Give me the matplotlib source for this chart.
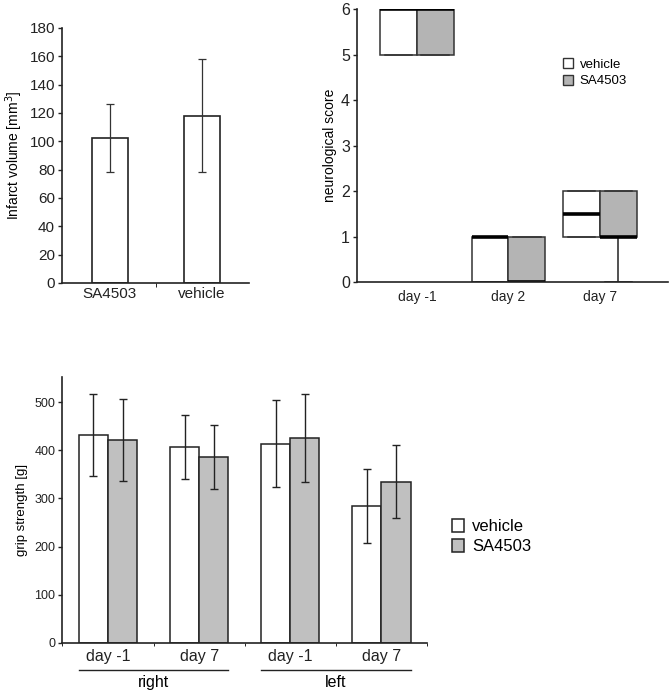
import numpy as np
import matplotlib.pyplot as plt
import matplotlib.transforms as mtransforms
from matplotlib.patches import Patch

plt.rcParams['font.family'] = ['Liberation Sans', 'DejaVu Sans']

# --- data ---
infarct_groups = ['SA4503', 'vehicle']
infarct_mean = [102, 118]
infarct_sd = [24, 40]

days_neuro = ['day -1', 'day 2', 'day 7']
# box stats: (q1, median, q3, whisker low, whisker high)
neuro_vehicle = [(5, 6, 6, 5, 6), (0, 1, 1, 0, 1), (1, 1.5, 2, 1, 2)]
neuro_sa = [(5, 6, 6, 5, 6), (0, 0, 1, 0, 1), (1, 1, 2, 0, 2)]

grip_days = ['day -1', 'day 7', 'day -1', 'day 7']
grip_sides = ['right', 'left']
grip_vehicle = [431, 407, 414, 285]
grip_vehicle_sd = [85, 67, 91, 77]
grip_sa = [421, 386, 425, 335]
grip_sa_sd = [85, 67, 91, 75]

GRAY_B = '#b4b4b4'
GRAY_C = '#c0c0c0'
EDGE = '#222222'

fig = plt.figure(figsize=(6.72, 6.98), dpi=100)


def style_axes(ax):
    for s in ['top', 'right']:
        ax.spines[s].set_visible(False)
    for s in ['left', 'bottom']:
        ax.spines[s].set_linewidth(1.2)
        ax.spines[s].set_color(EDGE)
    ax.tick_params(colors='#222222', width=1, length=3, pad=2)


# --- panel A: infarct volume ---
axA = fig.add_axes([0.0923, 0.5946, 0.278, 0.3653])
xa = np.arange(len(infarct_groups))
axA.bar(xa, infarct_mean, width=0.39, color='white', edgecolor=EDGE, linewidth=1.2,
        yerr=infarct_sd, error_kw=dict(ecolor='#333333', elinewidth=0.9, capsize=3, capthick=0.9))
axA.set_xlim(-0.52, 1.51)
axA.set_ylim(0, 180)
axA.set_yticks(np.arange(0, 181, 20))
axA.set_xticks(xa)
axA.set_xticklabels(infarct_groups, fontsize=11)
axA.set_xticks([0.5], minor=True)
style_axes(axA)
axA.tick_params(axis='x', which='major', length=0, pad=3)
axA.tick_params(axis='x', which='minor', length=3)
axA.tick_params(axis='y', labelsize=11)
axA.set_ylabel('Infarct volume [mm$^3$]', fontsize=10, labelpad=3)

# --- panel B: neurological score ---
axB = fig.add_axes([0.531, 0.596, 0.4628, 0.391])
xb = np.arange(len(days_neuro))


def to_stats(rows):
    return [dict(q1=r[0], med=r[1], q3=r[2], whislo=r[3], whishi=r[4]) for r in rows]


common = dict(widths=0.4, showfliers=False, patch_artist=True, capwidths=0.3,
              whiskerprops=dict(color='#333333', linewidth=1.2),
              capprops=dict(color='#333333', linewidth=1.1),
              medianprops=dict(color='black', linewidth=2.6, solid_capstyle='butt'))
axB.bxp(to_stats(neuro_vehicle), positions=xb - 0.2,
        boxprops=dict(facecolor='white', edgecolor='#333333', linewidth=1.1), **common)
axB.bxp(to_stats(neuro_sa), positions=xb + 0.2,
        boxprops=dict(facecolor=GRAY_B, edgecolor='#333333', linewidth=1.1), **common)
axB.set_xlim(-0.656, 2.74)
axB.set_ylim(0, 6)
axB.set_yticks(range(0, 7))
axB.set_xticks(xb)
axB.set_xticklabels(days_neuro, fontsize=10)
style_axes(axB)
axB.tick_params(axis='x', length=0, pad=6)
axB.tick_params(axis='y', labelsize=11.5)
axB.set_ylabel('neurological score', fontsize=10, labelpad=3)
handles = [Patch(facecolor='white', edgecolor='#333333', label='vehicle'),
           Patch(facecolor=GRAY_B, edgecolor='#333333', label='SA4503')]
axB.legend(handles=handles, loc='upper left', bbox_to_anchor=(0.645, 0.84), frameon=False,
           fontsize=9.5, handlelength=0.8, handleheight=0.8, handletextpad=0.5,
           labelspacing=0.3, borderaxespad=0)

# --- panel C: grip strength ---
axC = fig.add_axes([0.093, 0.0788, 0.5424, 0.381])
xc = np.arange(len(grip_days))
bw = 0.32
err_kw = dict(ecolor='#222222', elinewidth=1, capsize=3.2, capthick=1)
axC.bar(xc - bw / 2, grip_vehicle, width=bw, color='white', edgecolor=EDGE, linewidth=1.1,
        yerr=grip_vehicle_sd, error_kw=err_kw, label='vehicle')
axC.bar(xc + bw / 2, grip_sa, width=bw, color=GRAY_C, edgecolor=EDGE, linewidth=1.1,
        yerr=grip_sa_sd, error_kw=err_kw, label='SA4503')
axC.set_xlim(-0.5, 3.5)
axC.set_ylim(0, 552)
axC.set_yticks(np.arange(0, 501, 100))
axC.set_xticks(xc)
axC.set_xticklabels(grip_days, fontsize=11.5)
axC.set_xticks(np.arange(-0.5, 3.6, 1), minor=True)
style_axes(axC)
axC.tick_params(axis='y', labelsize=9)
axC.tick_params(axis='x', which='major', length=0, pad=4)
axC.tick_params(axis='x', which='minor', length=2.5)
axC.set_ylabel('grip strength [g]', fontsize=9.5, labelpad=5)

trans = mtransforms.blended_transform_factory(axC.transData, axC.transAxes)
for i, side in enumerate(grip_sides):
    x0 = 2 * i - bw
    x1 = 2 * i + 1 + bw
    axC.plot([x0, x1], [-0.1015, -0.1015], transform=trans, color='#222222',
             linewidth=1, clip_on=False)
    axC.text((x0 + x1) / 2, -0.15, side, transform=trans, ha='center', va='center',
             fontsize=11.5)

axC.legend(loc='center left', bbox_to_anchor=(1.05, 0.4), frameon=False, fontsize=12,
           handlelength=0.7, handleheight=0.8, handletextpad=0.5, labelspacing=0.3,
           borderaxespad=0)

fig.savefig('out.png', dpi=100)
